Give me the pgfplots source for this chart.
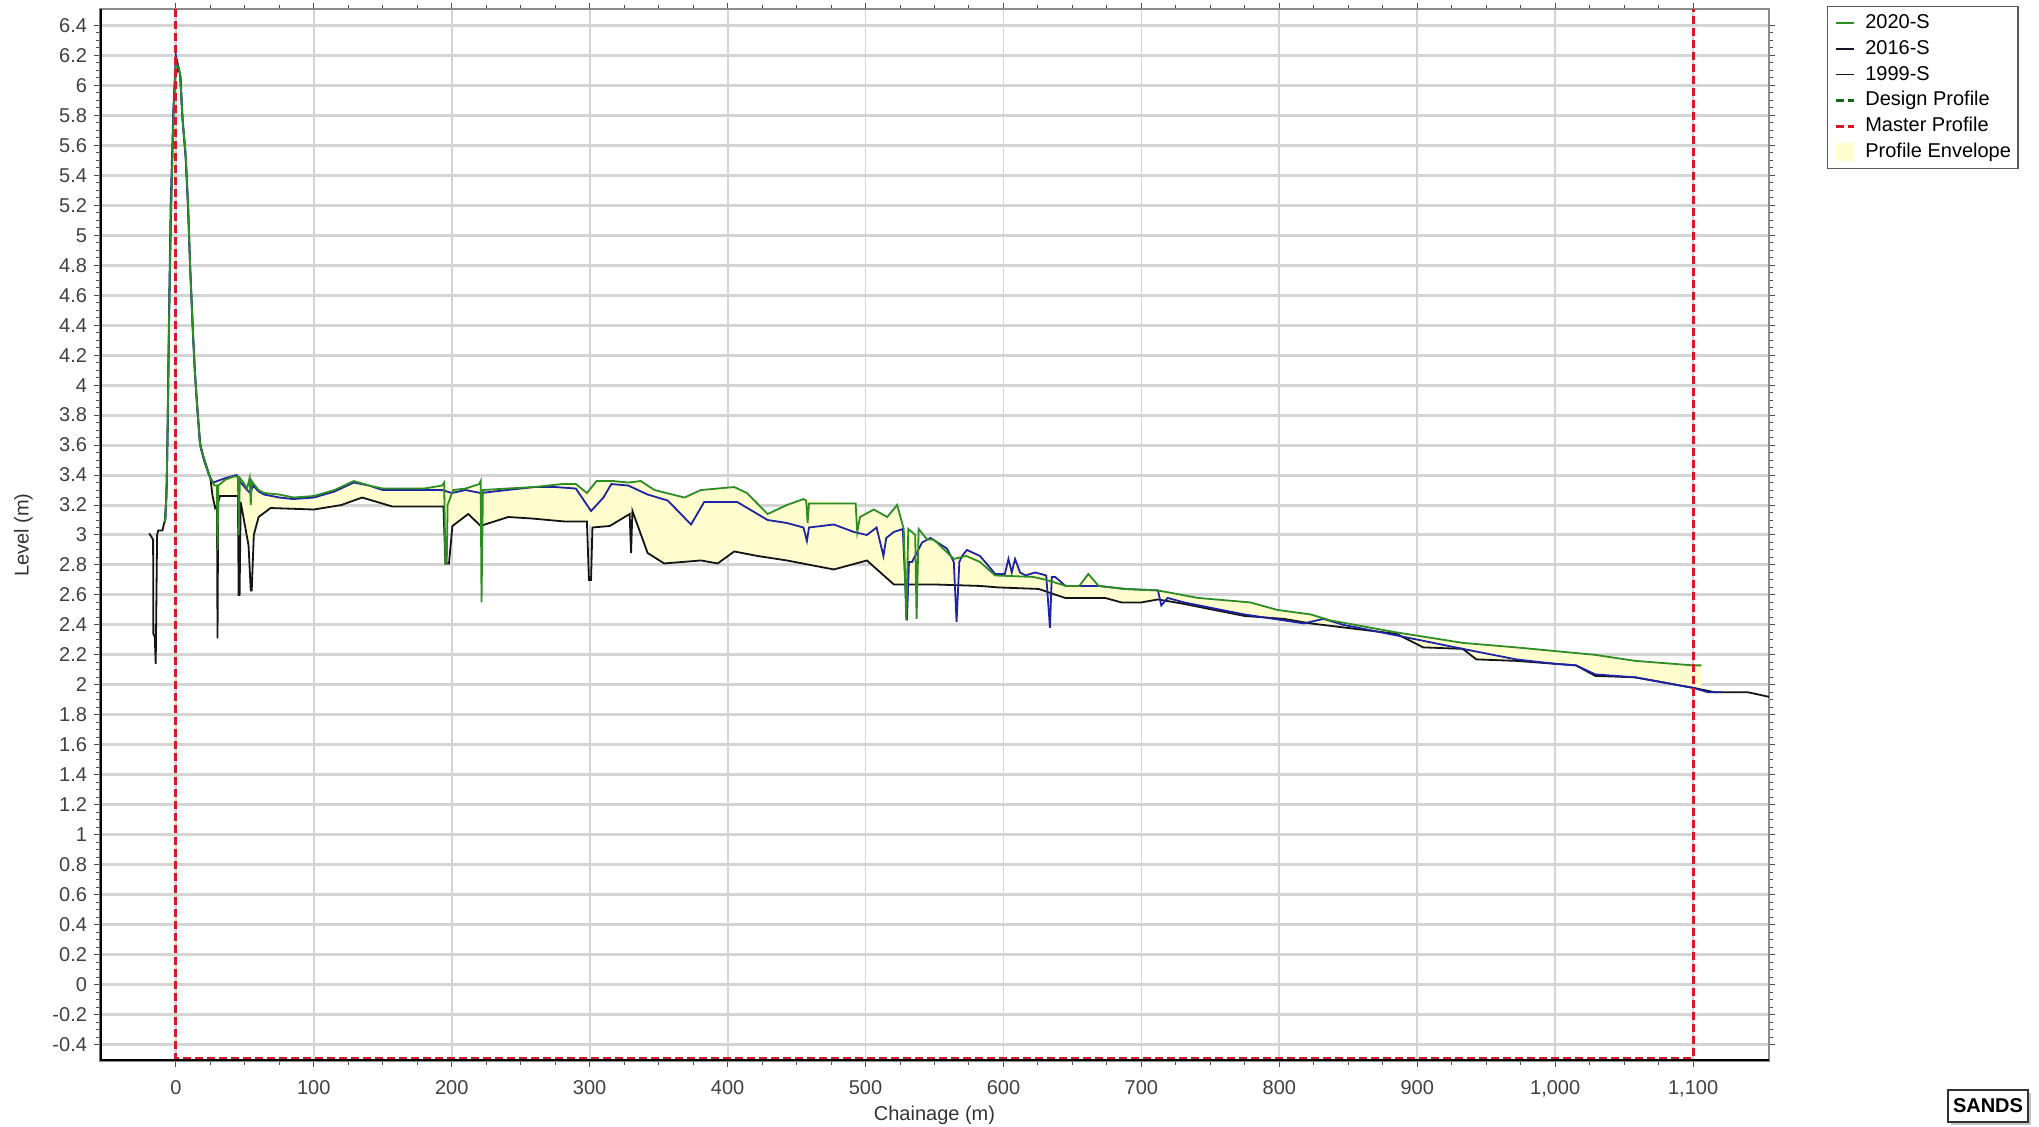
\documentclass[border=0pt]{standalone}
\usepackage{fontspec}
\setmainfont{Liberation Sans}
\usepackage{pgfplots}
\pgfplotsset{compat=1.18}
\usetikzlibrary{shadows}
\definecolor{cgreen}{RGB}{45,140,35}
\definecolor{cblue}{RGB}{30,35,165}
\definecolor{cblack}{RGB}{20,20,20}
\definecolor{cdesign}{RGB}{20,100,30}
\definecolor{cred}{RGB}{215,25,40}
\definecolor{cenv}{RGB}{255,253,205}
\definecolor{cgrid}{RGB}{212,212,212}
\begin{document}
\begin{tikzpicture}
\useasboundingbox (-50pt,-33pt) rectangle (969.5pt,530.5pt);
\begin{axis}[
  at={(0,0)}, anchor=south west,
  scale only axis, width=834.5pt, height=526pt,
  xmin=-55, xmax=1155, ymin=-0.51, ymax=6.51,
  xtick={0,100,...,1100}, minor x tick num=3,
  ytick={-0.4,-0.2,0,0.2,0.4,0.6,0.8,1,1.2,1.4,1.6,1.8,2,2.2,2.4,2.6,2.8,3,3.2,3.4,3.6,3.8,4,4.2,4.4,4.6,4.8,5,5.2,5.4,5.6,5.8,6,6.2,6.4},
  minor y tick num=3,
  tick align=outside, major tick length=3pt, minor tick length=2pt,
  tick style={black!70, line width=0.5pt},
  xmajorgrids, ymajorgrids,
  x grid style={cgrid, line width=0.9pt},
  y grid style={cgrid, line width=1.5pt},
  axis line style={draw=black!45, line width=0.8pt},
  /pgf/number format/assume math mode=true,
  /pgf/number format/1000 sep={,},
  ticklabel style={font=\fontsize{10}{12}\selectfont, text=black!75},
  xticklabel style={yshift=-3pt},
  xlabel={Chainage (m)}, ylabel={Level (m)},
  label style={font=\fontsize{10}{12}\selectfont, text=black!80},
  xlabel style={at={(axis description cs:0.5,-0.0515)}, anchor=center},
  ylabel style={at={(axis description cs:-0.0459,0.5)}, anchor=center},
  legend cell align=left,
  legend style={at={(1.0347,1.0029)}, anchor=north west, draw=black!65, line width=0.6pt,
    font=\fontsize{10}{12}\selectfont, inner sep=3.5pt, row sep=3.4pt, column sep=5pt,
    nodes={inner sep=0pt, text height=7.5pt, text depth=2pt}},
]
% Profile envelope
\addplot[fill=cenv, draw=none, forget plot] coordinates {
(-8,3.10) (-6,3.68) (-4.8,4.51) (-3.6,5.15) (-1.8,5.85) (0,6.2) (2,6.12) (3.5,6.08) (5,5.78) (7.2,5.53) (9,5.2) (10.5,4.78) (12.3,4.37) (14,4.09) (15.7,3.82) (17.6,3.6) (20.5,3.51) (23,3.43) (25.4,3.37) (30,3.36) (36,3.38) (44,3.40) (49,3.35) (51.6,3.31) (53.5,3.38) (56,3.34) (60,3.30) (64,3.28) (85,3.25) (100,3.26) (115,3.30) (129,3.36) (140,3.33) (163,3.31) (193,3.33) (194.5,3.35) (201,3.30) (220,3.34) (222.5,3.30) (240,3.31) (260,3.32) (280,3.34) (290,3.34) (298,3.28) (305,3.36) (317,3.36) (328,3.35) (337,3.36) (347,3.30) (368.7,3.25) (380.7,3.30) (404.8,3.32) (414,3.28) (429,3.14) (443,3.20) (455,3.24) (492.8,3.21) (496,3.12) (506,3.17) (515.7,3.12) (522.9,3.20) (527.7,3.04) (536,3.0) (541,2.95) (547,2.98) (559,2.91) (564,2.84) (573.5,2.90) (583,2.86) (594,2.74) (601,2.74) (603.6,2.84) (606,2.75) (608.4,2.84) (612,2.75) (623,2.75) (631,2.73) (645,2.66) (655,2.66) (661,2.74) (669,2.66) (712,2.63) (741,2.58) (779,2.55) (798.6,2.50) (822.6,2.47) (837,2.43) (885,2.35) (933,2.28) (971.6,2.25) (1029,2.20) (1058,2.16) (1100,2.13) (1106,2.13)
(1106,1.97) (1100,1.98) (1058,2.05) (1029,2.06) (1015,2.13) (1000.5,2.14) (971.6,2.16) (942.8,2.17) (933,2.24) (904.3,2.25) (885,2.33) (846.6,2.40) (822.6,2.41) (803.4,2.44) (774.5,2.46) (731,2.54) (712,2.57) (700,2.55) (685.6,2.55) (673.6,2.58) (644.7,2.58) (635,2.61) (625.5,2.64) (596.6,2.65) (549,2.67) (520.5,2.67) (501,2.83) (477,2.77) (443,2.83) (421.7,2.86) (404.8,2.89) (392.8,2.81) (380.7,2.83) (354,2.81) (342,2.88) (331,3.16) (329,3.14) (314.5,3.06) (302,3.05) (298,3.09) (282,3.09) (258,3.11) (241,3.12) (224,3.07) (221,3.06) (212,3.14) (200.5,3.06) (196,3.10) (194,3.19) (157,3.19) (135,3.25) (120,3.2) (100,3.17) (68.7,3.18) (60,3.12) (56.5,3.0) (52.7,2.93) (47,3.22) (45,3.26) (32,3.26) (28.5,3.18) (26.6,3.26) (25,3.38) (22.5,3.45) (20,3.52) (17.3,3.62) (15.5,3.85) (13.7,4.1) (12.2,4.4) (10.3,4.8) (8.8,5.2) (7,5.55) (4.6,5.8) (3,6.05) (1.5,6.1) (0,6.1) (-1.8,5.8) (-3.6,5.1) (-4.8,4.5) (-6,3.68) (-6.8,3.26) (-8,3.10)
};
% 1999-S
\addplot[cblack, line width=0.9pt, forget plot] coordinates {
(-19.3,3.01) (-16.5,2.97) (-16.3,2.34) (-15.3,2.32) (-14.6,2.14) (-13.6,3.0) (-12.8,3.03) (-9.7,3.03) (-8,3.10) (-6.8,3.26) (-6,3.68) (-4.8,4.5) (-3.6,5.1) (-1.8,5.8) (-0.5,6.05) (1.5,6.12) (3,6.08) (4.6,5.8) (7,5.55) (8.8,5.2) (10.3,4.8) (12.2,4.4) (13.7,4.1) (15.5,3.85) (17.3,3.62) (20,3.52) (22.5,3.45) (25,3.38) (26.6,3.26) (28.5,3.18) (29.8,3.2) (30.2,2.31) (30.7,3.22) (32,3.26) (45,3.26) (45.5,2.6) (46.2,2.6) (47,3.22) (52.7,2.93) (54.3,2.63) (55,2.63) (56.5,3.0) (60,3.12) (68.7,3.18) (100,3.17) (120,3.2) (135,3.25) (157,3.19) (194,3.19) (195.4,2.81) (198,2.81) (200.5,3.06) (212,3.14) (221,3.06) (224,3.07) (241,3.12) (258,3.11) (282,3.09) (298,3.09) (299.5,2.70) (301,2.70) (302,3.05) (314.5,3.06) (329,3.14) (330,2.88) (331,3.16) (342,2.88) (354,2.81) (380.7,2.83) (392.8,2.81) (404.8,2.89) (421.7,2.86) (443,2.83) (477,2.77) (501,2.83) (520.5,2.67) (549,2.67) (583,2.66) (596.6,2.65) (625.5,2.64) (635,2.61) (644.7,2.58) (673.6,2.58) (685.6,2.55) (700,2.55) (712,2.57) (731,2.54) (774.5,2.46) (803.4,2.44) (822.6,2.41) (885,2.34) (904.3,2.25) (933,2.24) (942.8,2.17) (971.6,2.16) (1000.5,2.14) (1015,2.13) (1029,2.06) (1058,2.05) (1100,1.98) (1116,1.95) (1140,1.95) (1155,1.92)
};
% 2016-S
\addplot[cblue, line width=0.9pt, forget plot] coordinates {
(-7.5,3.1) (-6.5,3.4) (-6,3.7) (-5,4.45) (-3.8,5.2) (-1.8,5.85) (0,6.2) (2,6.12) (3.5,6.05) (5,5.75) (7.2,5.5) (9,5.15) (10.5,4.75) (12.3,4.35) (14,4.05) (16,3.8) (18,3.58) (21,3.48) (24,3.4) (27,3.35) (30,3.36) (36,3.38) (44,3.40) (46,3.36) (49,3.33) (51.6,3.30) (54,3.28) (56,3.33) (60,3.29) (64,3.27) (75,3.25) (85,3.24) (100,3.25) (115,3.29) (129,3.35) (140,3.33) (150,3.30) (163,3.30) (180,3.30) (193,3.30) (200,3.28) (210,3.30) (221,3.28) (240,3.30) (260,3.32) (275,3.32) (290,3.31) (301,3.16) (310,3.25) (315.7,3.34) (328,3.33) (342,3.27) (356.6,3.23) (373.5,3.07) (383,3.22) (407,3.22) (429,3.10) (443,3.08) (455,3.05) (457.5,2.96) (459,3.05) (477,3.07) (491.6,3.02) (501,3.0) (508,3.05) (513,2.86) (515,2.98) (520.5,3.02) (527,3.04) (530,2.43) (531.5,2.82) (533.7,2.82) (541,2.95) (547,2.98) (559,2.91) (564,2.82) (566,2.42) (568,2.82) (570,2.86) (573.5,2.90) (583,2.86) (594,2.74) (601,2.74) (603.6,2.84) (606,2.75) (608.4,2.84) (612,2.75) (616,2.73) (623,2.75) (631,2.73) (633.7,2.38) (635,2.72) (637.5,2.72) (645,2.66) (655,2.66) (669,2.66) (688,2.64) (712,2.63) (714.4,2.53) (719,2.58) (731,2.55) (774.5,2.47) (817.8,2.41) (832,2.44) (846.6,2.40) (885,2.33) (933,2.24) (971.6,2.17) (1000.5,2.14) (1015,2.13) (1029,2.07) (1058,2.05) (1100,1.98) (1111,1.95) (1121,1.95)
};
% 2020-S
\addplot[cgreen, line width=0.9pt, forget plot] coordinates {
(-8,3.08) (-6.8,3.26) (-6,3.68) (-4.8,4.51) (-3.6,5.15) (-1.7,5.81) (0,6.15) (1.7,6.12) (3.1,6.08) (4.8,5.78) (7.2,5.53) (8.9,5.2) (10.4,4.78) (12.3,4.37) (13.8,4.09) (15.7,3.82) (17.6,3.6) (20.5,3.51) (23,3.43) (25.4,3.37) (28,3.33) (29.8,3.33) (30.2,2.9) (30.8,3.33) (36,3.37) (42,3.39) (45,3.39) (45.6,3.0) (46.4,3.38) (49,3.35) (51.6,3.31) (53.5,3.38) (54.3,3.2) (55,3.36) (56.5,3.34) (60,3.30) (64,3.28) (75,3.27) (85.5,3.25) (100,3.26) (115,3.30) (129,3.36) (140,3.33) (150,3.31) (163,3.31) (180,3.31) (193,3.33) (194.5,3.35) (195.4,2.81) (196.4,2.82) (197,3.2) (201,3.30) (210,3.31) (220,3.34) (221,3.36) (221.6,2.55) (222.6,3.30) (240,3.31) (260,3.32) (280,3.34) (290,3.34) (298,3.28) (305,3.36) (317,3.36) (328,3.35) (337,3.36) (347,3.30) (368.7,3.25) (380.7,3.30) (404.8,3.32) (414,3.28) (429,3.14) (443,3.20) (455,3.24) (457,3.23) (458,3.08) (459,3.21) (492.8,3.21) (494,3.02) (496,3.12) (506,3.17) (515.7,3.12) (522.9,3.20) (527.7,3.04) (529.5,2.43) (531,3.04) (536,3.0) (537,2.44) (538.5,3.04) (544.6,2.97) (549.4,2.97) (564,2.84) (573,2.86) (583,2.82) (594,2.73) (621.7,2.72) (631,2.70) (645.5,2.66) (655,2.66) (661.5,2.74) (669,2.66) (688,2.64) (712,2.63) (741,2.58) (779,2.55) (798.6,2.50) (822.6,2.47) (837,2.43) (885,2.35) (933,2.28) (971.6,2.25) (1029,2.20) (1058,2.16) (1100,2.13) (1106,2.13)
};
% Master profile
\addplot[cred, line width=1.4pt, dash pattern=on 4pt off 2pt, forget plot] coordinates {
(0,6.51) (0,-0.49) (1100,-0.49) (1100,6.51)
};
% legend
\addlegendimage{legend image code/.code={\draw[cgreen, line width=0.8pt] (0pt,0pt) -- (9pt,0pt);}}
\addlegendentry{2020-S}
\addlegendimage{legend image code/.code={\draw[cblack!85!cblue, line width=0.8pt] (0pt,0pt) -- (9pt,0pt);}}
\addlegendentry{2016-S}
\addlegendimage{legend image code/.code={\draw[cblack, line width=0.8pt] (0pt,0pt) -- (9pt,0pt);}}
\addlegendentry{1999-S}
\addlegendimage{legend image code/.code={\draw[cdesign, line width=1.4pt, dash pattern=on 4pt off 2pt] (0pt,0pt) -- (9pt,0pt);}}
\addlegendentry{Design Profile}
\addlegendimage{legend image code/.code={\draw[cred, line width=1.4pt, dash pattern=on 4pt off 2pt] (0pt,0pt) -- (9pt,0pt);}}
\addlegendentry{Master Profile}
\addlegendimage{legend image code/.code={\fill[cenv] (0.5pt,-4pt) rectangle (8.5pt,4pt);}}
\addlegendentry{Profile Envelope}
\draw[black, line width=2pt] (rel axis cs:0,1) -- (rel axis cs:0,0) -- (rel axis cs:1,0);
\end{axis}
\node[draw=black!80, fill=white, line width=0.8pt, drop shadow={shadow xshift=1.5pt, shadow yshift=-1.5pt, fill=black!45},
  font=\fontsize{10}{12}\selectfont\bfseries, inner sep=0pt, minimum width=40pt, minimum height=16pt] at (944pt,-22.5pt) {SANDS};
\end{tikzpicture}
\end{document}
